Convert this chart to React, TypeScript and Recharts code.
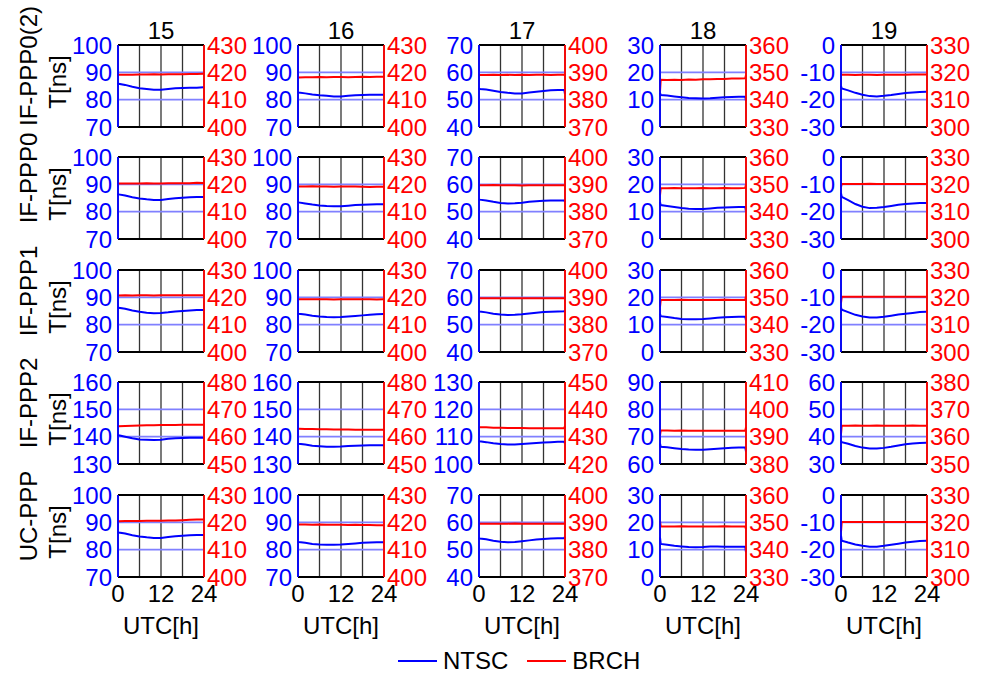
import React from 'react';
import { LineChart, Line, XAxis, YAxis, CartesianGrid, ReferenceLine, Legend } from 'recharts';

const FONT = '"Liberation Sans", Arial, Helvetica, sans-serif';
const BLUE = '#0000ff';
const RED = '#ff0000';
const GRID_BLUE = '#8080ff';

// hours of day (UTC)
const HOURS = [0, 0.2, 2, 4, 6, 8, 10, 12, 14, 16, 18, 20, 22, 23.8, 24];
const X_TICKS = [0, 6, 12, 18, 24];

const DAYS = ['15', '16', '17', '18', '19'];
const SOLUTIONS = ['IF-PPP0(2)', 'IF-PPP0', 'IF-PPP1', 'IF-PPP2', 'UC-PPP'];

// lower bound of the left (NTSC) and right (BRCH) axes, per day
const NTSC_MIN = [70, 70, 40, 0, -30];
const BRCH_MIN = [400, 400, 370, 330, 300];
const NTSC_MIN_PPP2 = [130, 130, 100, 60, 30];
const BRCH_MIN_PPP2 = [450, 450, 420, 380, 350];

// IF-PPP0(2)
const NTSC_P02_15 = [86.2, 85.8, 85.4, 84.7, 84.2, 83.9, 83.6, 83.6, 83.9, 84.2, 84.3, 84.4, 84.4, 84.5, 84.5];
const BRCH_P02_15 = [419.0, 419.1, 419.1, 419.1, 419.2, 419.2, 419.3, 419.2, 419.3, 419.3, 419.3, 419.4, 419.4, 419.5, 419.5];
const NTSC_P02_16 = [82.8, 82.6, 82.3, 81.9, 81.6, 81.4, 81.2, 81.2, 81.4, 81.6, 81.7, 81.8, 81.8, 81.8, 81.8];
const BRCH_P02_16 = [418.0, 418.1, 418.2, 418.2, 418.3, 418.2, 418.3, 418.3, 418.2, 418.3, 418.4, 418.3, 418.4, 418.4, 418.2];
const NTSC_P02_17 = [54.2, 53.9, 53.7, 53.3, 52.8, 52.5, 52.3, 52.3, 52.6, 52.9, 53.2, 53.4, 53.5, 53.5, 52.0];
const BRCH_P02_17 = [388.9, 389.0, 389.0, 389.1, 389.0, 389.1, 389.0, 389.1, 389.0, 389.1, 389.1, 389.0, 389.1, 389.1, 388.6];
const NTSC_P02_18 = [12.5, 11.7, 11.5, 11.2, 10.9, 10.6, 10.5, 10.4, 10.5, 10.7, 10.9, 11.0, 11.1, 11.1, 9.5];
const BRCH_P02_18 = [343.0, 347.3, 347.2, 347.3, 347.2, 347.4, 347.3, 347.5, 347.5, 347.6, 347.6, 347.7, 347.7, 347.8, 349.0];
const NTSC_P02_19 = [-15.0, -15.9, -16.6, -17.5, -18.2, -18.7, -18.8, -18.6, -18.3, -17.9, -17.6, -17.4, -17.2, -17.1, -17.1];
const BRCH_P02_19 = [319.5, 319.1, 319.1, 319.0, 319.1, 319.1, 319.0, 319.1, 319.1, 319.1, 319.1, 319.2, 319.2, 319.2, 319.2];

// IF-PPP0
const NTSC_P0_15 = [86.6, 86.3, 85.9, 85.3, 84.8, 84.5, 84.3, 84.3, 84.6, 84.9, 85.1, 85.3, 85.4, 85.4, 85.4];
const BRCH_P0_15 = [420.2, 420.3, 420.3, 420.3, 420.3, 420.4, 420.3, 420.3, 420.4, 420.4, 420.4, 420.4, 420.6, 420.5, 420.5];
const NTSC_P0_16 = [83.6, 83.4, 83.0, 82.6, 82.3, 82.1, 82.0, 82.0, 82.2, 82.4, 82.5, 82.6, 82.7, 82.7, 82.7];
const BRCH_P0_16 = [419.2, 419.2, 419.2, 419.3, 419.2, 419.2, 419.1, 419.2, 419.2, 419.2, 419.1, 419.0, 419.1, 419.1, 419.1];
const NTSC_P0_17 = [54.6, 54.4, 54.1, 53.6, 53.2, 53.0, 53.1, 53.3, 53.6, 53.8, 54.0, 54.1, 54.1, 54.1, 53.5];
const BRCH_P0_17 = [389.7, 389.7, 389.7, 389.8, 389.7, 389.7, 389.7, 389.6, 389.7, 389.7, 389.7, 389.7, 389.7, 389.7, 389.5];
const NTSC_P0_18 = [13.5, 12.4, 12.1, 11.7, 11.3, 11.1, 11.0, 11.0, 11.2, 11.4, 11.5, 11.6, 11.7, 11.7, 10.0];
const BRCH_P0_18 = [346.0, 348.6, 348.6, 348.7, 348.6, 348.6, 348.6, 348.7, 348.6, 348.6, 348.7, 348.6, 348.6, 348.7, 350.0];
const NTSC_P0_19 = [-13.2, -14.6, -15.8, -17.2, -18.2, -18.7, -18.6, -18.3, -17.9, -17.5, -17.2, -17.0, -16.8, -16.8, -16.8];
const BRCH_P0_19 = [319.0, 320.1, 320.1, 320.1, 320.1, 320.2, 320.1, 320.1, 320.1, 320.1, 320.1, 320.1, 320.1, 320.1, 320.1];

// IF-PPP1
const NTSC_P1_15 = [86.5, 86.2, 85.8, 85.2, 84.7, 84.4, 84.2, 84.3, 84.5, 84.8, 85.0, 85.2, 85.4, 85.4, 85.4];
const BRCH_P1_15 = [420.6, 420.7, 420.8, 420.7, 420.8, 420.8, 420.7, 420.8, 420.8, 420.8, 420.8, 420.8, 420.8, 420.8, 420.8];
const NTSC_P1_16 = [84.2, 84.0, 83.7, 83.3, 83.0, 82.8, 82.7, 82.8, 83.0, 83.2, 83.4, 83.6, 83.8, 83.9, 83.9];
const BRCH_P1_16 = [419.3, 419.3, 419.3, 419.3, 419.3, 419.3, 419.2, 419.3, 419.3, 419.3, 419.3, 419.3, 419.2, 419.3, 419.3];
const NTSC_P1_17 = [55.0, 54.8, 54.5, 54.0, 53.7, 53.5, 53.6, 53.8, 54.1, 54.4, 54.6, 54.7, 54.8, 54.9, 55.2];
const BRCH_P1_17 = [389.7, 389.7, 389.7, 389.7, 389.7, 389.7, 389.7, 389.7, 389.7, 389.7, 389.7, 389.7, 389.7, 389.7, 389.7];
const NTSC_P1_18 = [14.0, 13.1, 12.8, 12.4, 12.1, 12.0, 12.0, 12.1, 12.3, 12.5, 12.7, 12.8, 12.9, 12.9, 11.5];
const BRCH_P1_18 = [346.5, 349.0, 349.0, 349.0, 349.1, 349.0, 349.0, 349.0, 349.0, 349.0, 349.1, 349.0, 349.0, 349.0, 350.5];
const NTSC_P1_19 = [-13.8, -14.5, -15.4, -16.4, -17.0, -17.4, -17.4, -17.1, -16.7, -16.3, -16.0, -15.7, -15.4, -15.3, -15.3];
const BRCH_P1_19 = [318.0, 320.2, 320.2, 320.2, 320.2, 320.2, 320.2, 320.2, 320.2, 320.2, 320.2, 320.2, 320.2, 320.2, 320.2];

// IF-PPP2
const NTSC_P2_15 = [140.8, 140.5, 140.0, 139.4, 139.0, 138.9, 138.8, 138.9, 139.2, 139.4, 139.5, 139.6, 139.6, 139.6, 139.6];
const BRCH_P2_15 = [463.7, 463.8, 463.9, 464.0, 464.1, 464.2, 464.2, 464.3, 464.3, 464.3, 464.4, 464.4, 464.4, 464.4, 464.4];
const NTSC_P2_16 = [137.6, 137.4, 137.1, 136.7, 136.5, 136.3, 136.3, 136.4, 136.6, 136.7, 136.8, 136.9, 136.9, 136.9, 136.9];
const BRCH_P2_16 = [462.9, 462.9, 462.8, 462.8, 462.7, 462.7, 462.6, 462.6, 462.6, 462.5, 462.5, 462.5, 462.5, 462.5, 462.5];
const NTSC_P2_17 = [108.5, 108.3, 108.0, 107.6, 107.3, 107.1, 107.1, 107.3, 107.5, 107.7, 107.9, 108.0, 108.1, 108.1, 107.5];
const BRCH_P2_17 = [433.5, 433.4, 433.4, 433.3, 433.3, 433.2, 433.2, 433.2, 433.1, 433.1, 433.1, 433.1, 433.1, 433.1, 434.0];
const NTSC_P2_18 = [67.5, 66.3, 66.1, 65.8, 65.5, 65.3, 65.2, 65.2, 65.4, 65.6, 65.8, 65.9, 66.0, 66.0, 64.5];
const BRCH_P2_18 = [390.5, 392.3, 392.3, 392.2, 392.3, 392.2, 392.2, 392.2, 392.2, 392.2, 392.2, 392.2, 392.2, 392.2, 393.5];
const NTSC_P2_19 = [38.5, 38.0, 37.4, 36.6, 36.0, 35.7, 35.7, 35.9, 36.3, 36.8, 37.2, 37.5, 37.7, 37.8, 37.8];
const BRCH_P2_19 = [361.0, 364.0, 364.0, 364.1, 364.0, 364.0, 364.1, 364.0, 364.0, 364.0, 364.0, 364.1, 364.0, 364.0, 364.0];

// UC-PPP
const NTSC_UC_15 = [86.5, 86.3, 85.9, 85.3, 84.8, 84.5, 84.3, 84.3, 84.6, 84.9, 85.1, 85.3, 85.4, 85.4, 85.4];
const BRCH_UC_15 = [420.4, 420.4, 420.5, 420.5, 420.5, 420.6, 420.6, 420.6, 420.7, 420.7, 420.8, 420.9, 421.0, 421.0, 421.0];
const NTSC_UC_16 = [83.0, 82.8, 82.5, 82.1, 81.9, 81.8, 81.8, 81.9, 82.1, 82.3, 82.5, 82.6, 82.7, 82.7, 82.7];
const BRCH_UC_16 = [419.3, 419.2, 419.2, 419.1, 419.2, 419.1, 419.1, 419.1, 419.0, 419.1, 419.0, 419.0, 418.9, 418.9, 418.9];
const NTSC_UC_17 = [54.3, 54.1, 53.8, 53.3, 52.9, 52.7, 52.8, 53.1, 53.4, 53.7, 53.9, 54.1, 54.2, 54.2, 54.8];
const BRCH_UC_17 = [389.5, 389.5, 389.5, 389.5, 389.5, 389.5, 389.6, 389.5, 389.5, 389.5, 389.5, 389.5, 389.5, 389.5, 389.5];
const NTSC_UC_18 = [14.5, 12.1, 11.8, 11.4, 11.2, 11.0, 10.9, 11.0, 11.2, 11.2, 11.1, 11.1, 11.1, 11.1, 9.0];
const BRCH_UC_18 = [350.5, 348.5, 348.5, 348.5, 348.6, 348.5, 348.5, 348.5, 348.5, 348.5, 348.6, 348.5, 348.5, 348.5, 347.5];
const NTSC_UC_19 = [-14.9, -16.7, -17.4, -18.1, -18.6, -18.9, -18.9, -18.6, -18.2, -17.8, -17.4, -17.1, -16.8, -16.7, -16.7];
const BRCH_UC_19 = [316.5, 320.1, 320.1, 320.1, 320.1, 320.1, 320.1, 320.1, 320.1, 320.1, 320.1, 320.1, 320.1, 320.1, 320.1];

const NTSC_ROWS = [
  [NTSC_P02_15, NTSC_P02_16, NTSC_P02_17, NTSC_P02_18, NTSC_P02_19],
  [NTSC_P0_15, NTSC_P0_16, NTSC_P0_17, NTSC_P0_18, NTSC_P0_19],
  [NTSC_P1_15, NTSC_P1_16, NTSC_P1_17, NTSC_P1_18, NTSC_P1_19],
  [NTSC_P2_15, NTSC_P2_16, NTSC_P2_17, NTSC_P2_18, NTSC_P2_19],
  [NTSC_UC_15, NTSC_UC_16, NTSC_UC_17, NTSC_UC_18, NTSC_UC_19],
];
const BRCH_ROWS = [
  [BRCH_P02_15, BRCH_P02_16, BRCH_P02_17, BRCH_P02_18, BRCH_P02_19],
  [BRCH_P0_15, BRCH_P0_16, BRCH_P0_17, BRCH_P0_18, BRCH_P0_19],
  [BRCH_P1_15, BRCH_P1_16, BRCH_P1_17, BRCH_P1_18, BRCH_P1_19],
  [BRCH_P2_15, BRCH_P2_16, BRCH_P2_17, BRCH_P2_18, BRCH_P2_19],
  [BRCH_UC_15, BRCH_UC_16, BRCH_UC_17, BRCH_UC_18, BRCH_UC_19],
];

// layout (page px)
const PLOT_LEFT = [118, 298, 479, 660, 841];
const PLOT_TOP = [45, 157, 270, 382, 495];
const PW = 86;
const PH = 82;
const AXIS_W = 55;

const tickStyle = (fill: string) => ({ fill, fontSize: 24, fontFamily: FONT });

const RowLabel = ({ name, cy }: { name: string; cy: number }) => (
  <g>
    <text
      x={28}
      y={cy - 20}
      transform={`rotate(-90 28 ${cy - 20})`}
      textAnchor="middle"
      dominantBaseline="central"
      fontSize={24}
      fontFamily={FONT}
      fill="#000"
    >
      {name}
    </text>
    <text
      x={57}
      y={cy - 4}
      transform={`rotate(-90 57 ${cy - 4})`}
      textAnchor="middle"
      dominantBaseline="central"
      fontSize={24}
      fontFamily={FONT}
      fill="#000"
    >
      T[ns]
    </text>
  </g>
);

const Panel = ({ row, col }: { row: number; col: number }) => {
  const ntsc = NTSC_ROWS[row][col];
  const brch = BRCH_ROWS[row][col];
  const lMin = row === 3 ? NTSC_MIN_PPP2[col] : NTSC_MIN[col];
  const rMin = row === 3 ? BRCH_MIN_PPP2[col] : BRCH_MIN[col];
  const lTicks = [lMin, lMin + 10, lMin + 20, lMin + 30];
  const rTicks = [rMin, rMin + 10, rMin + 20, rMin + 30];
  const data = HOURS.map((t, i) => ({ t, ntsc: ntsc[i], brch: brch[i] }));

  const last = row === 4;
  const ml = col === 0 ? 63 : 0;
  const mt = 44;
  const bh = last ? 36 : 1;
  const mb = last ? 32 : 18;
  const width = ml + AXIS_W + PW + AXIS_W;
  const height = mt + PH + bh + mb;

  return (
    <div style={{ position: 'absolute', left: PLOT_LEFT[col] - AXIS_W - ml, top: PLOT_TOP[row] - mt }}>
      <LineChart width={width} height={height} data={data} margin={{ top: mt, right: 0, bottom: mb, left: ml }}>
        <CartesianGrid horizontal={false} stroke="#333" strokeWidth={1.3} />
        <ReferenceLine yAxisId="left" y={lTicks[1]} stroke={GRID_BLUE} strokeWidth={1.7} />
        <ReferenceLine yAxisId="left" y={lTicks[2]} stroke={GRID_BLUE} strokeWidth={1.7} />
        <XAxis
          type="number"
          dataKey="t"
          domain={[0, 24]}
          ticks={X_TICKS}
          interval={0}
          height={bh}
          axisLine={{ stroke: '#000', strokeWidth: 1.8 }}
          tickLine={false}
          tickSize={0}
          tickMargin={8}
          tick={tickStyle('#000')}
          tickFormatter={(v: number) => (last && v % 12 === 0 ? String(v) : '')}
          label={
            last
              ? { value: 'UTC[h]', position: 'bottom', offset: 4, fill: '#000', fontSize: 24, fontFamily: FONT }
              : undefined
          }
        />
        <YAxis
          yAxisId="left"
          width={AXIS_W}
          domain={[lTicks[0], lTicks[3]]}
          ticks={lTicks}
          interval={0}
          allowDataOverflow
          axisLine={{ stroke: BLUE, strokeWidth: 1.8 }}
          tickLine={false}
          tickSize={0}
          tickMargin={6}
          tick={tickStyle(BLUE)}
          label={col === 0 ? { content: () => <RowLabel name={SOLUTIONS[row]} cy={mt + PH / 2} /> } : undefined}
        />
        <YAxis
          yAxisId="right"
          orientation="right"
          width={AXIS_W}
          domain={[rTicks[0], rTicks[3]]}
          ticks={rTicks}
          interval={0}
          allowDataOverflow
          axisLine={{ stroke: RED, strokeWidth: 1.8 }}
          tickLine={false}
          tickSize={0}
          tickMargin={3}
          tick={tickStyle(RED)}
        />
        <Line yAxisId="left" type="linear" dataKey="ntsc" name="NTSC" stroke={BLUE} strokeWidth={2} dot={false} isAnimationActive={false} />
        <Line yAxisId="right" type="linear" dataKey="brch" name="BRCH" stroke={RED} strokeWidth={2} dot={false} isAnimationActive={false} />
        <ReferenceLine
          yAxisId="left"
          y={lTicks[3]}
          ifOverflow="visible"
          stroke="#000"
          strokeWidth={1.8}
          label={row === 0 ? { value: DAYS[col], position: 'top', offset: 6, fill: '#000', fontSize: 24, fontFamily: FONT } : undefined}
        />
      </LineChart>
    </div>
  );
};

const LEGEND_ORDER = ['NTSC', 'BRCH'];

const renderLegend = (props: any) => {
  const items = [...(props.payload || [])].sort(
    (a: any, b: any) => LEGEND_ORDER.indexOf(a.value) - LEGEND_ORDER.indexOf(b.value)
  );
  return (
    <div style={{ display: 'flex', alignItems: 'center', fontFamily: FONT, fontSize: 24, lineHeight: '28px', color: '#000' }}>
      {items.map((entry: any) => (
        <div key={entry.value} style={{ display: 'flex', alignItems: 'center', marginRight: 19 }}>
          <svg width={39} height={4}>
            <line x1={0} y1={2} x2={39} y2={2} stroke={entry.color} strokeWidth={2} />
          </svg>
          <span style={{ marginLeft: 6 }}>{entry.value}</span>
        </div>
      ))}
    </div>
  );
};

const LEGEND_DATA = [{ t: 0, ntsc: null, brch: null }];

export default function App() {
  const panels = [];
  for (let r = 0; r < SOLUTIONS.length; r++) {
    for (let c = 0; c < DAYS.length; c++) {
      panels.push(<Panel key={`${r}-${c}`} row={r} col={c} />);
    }
  }
  return (
    <div style={{ position: 'absolute', left: 0, top: 0, width: 988, height: 680, background: '#fff', fontFamily: FONT }}>
      {panels}
      <div style={{ position: 'absolute', left: 398, top: 647 }}>
        <LineChart width={300} height={30} data={LEGEND_DATA} margin={{ top: 0, right: 0, bottom: 0, left: 0 }}>
          <XAxis dataKey="t" hide />
          <YAxis hide />
          <Line dataKey="ntsc" name="NTSC" stroke={BLUE} dot={false} isAnimationActive={false} />
          <Line dataKey="brch" name="BRCH" stroke={RED} dot={false} isAnimationActive={false} />
          <Legend verticalAlign="top" align="left" content={renderLegend} wrapperStyle={{ left: 0, top: 0 }} />
        </LineChart>
      </div>
    </div>
  );
}
